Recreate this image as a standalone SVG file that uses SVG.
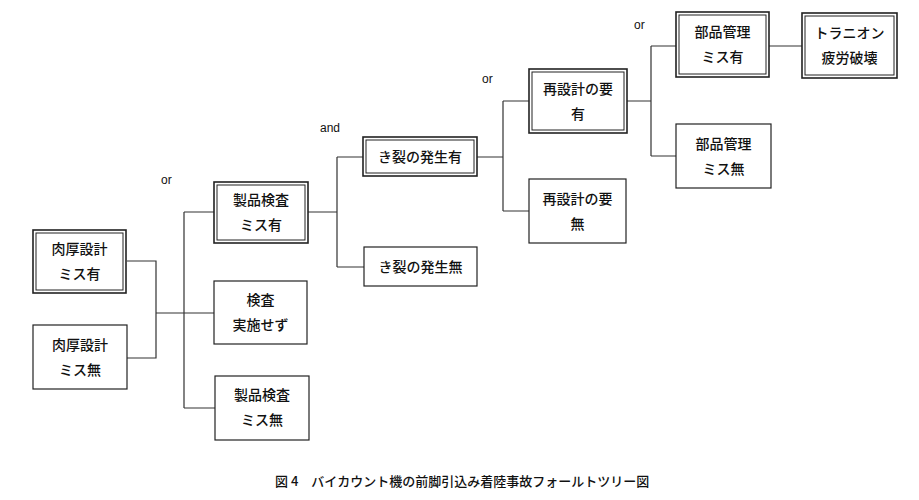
<svg xmlns="http://www.w3.org/2000/svg" width="919" height="500" viewBox="0 0 919 500">
<style>
.b{fill:#fff;stroke:#222;stroke-width:1.2}
.o{fill:#fff;stroke:#222;stroke-width:1.6}
.i{fill:none;stroke:#222;stroke-width:1}
.t{font-family:"Noto Sans CJK JP","Noto Sans",sans-serif;font-size:14px;font-weight:500;fill:#111;text-anchor:middle}
.l{font-family:"Liberation Sans",Arial,sans-serif;font-size:12px;fill:#111}
.c{fill:none;stroke:#333;stroke-width:1.2}
</style>
<rect width="919" height="500" fill="#fff"/>
<g id="connectors" class="c">
<path d="M127,261H156V358H127M156,313H184M184,212V408M184,212H214M184,313H214M184,408H215"/>
<path d="M308,212H337M337,157V267M337,157H363M337,267H364"/>
<path d="M477,157H503M503,101V211M503,101H529M503,211H529"/>
<path d="M627,101H651M651,46V156M651,46H676M651,156H676"/>
<path d="M769,46H802"/>
</g>
<g id="n1"><rect class="o" x="33" y="230" width="93" height="63"/><rect class="i" x="36" y="233" width="87" height="57"/><text class="t" x="79.5" y="254">肉厚設計</text><text class="t" x="79.5" y="279">ミス有</text></g>
<g id="n2"><rect class="b" x="33" y="325" width="94" height="64"/><text class="t" x="80" y="350">肉厚設計</text><text class="t" x="80" y="375">ミス無</text></g>
<g id="n3"><rect class="o" x="214" y="182" width="94" height="61"/><rect class="i" x="217" y="185" width="88" height="55"/><text class="t" x="261" y="205">製品検査</text><text class="t" x="261" y="230">ミス有</text></g>
<g id="n4"><rect class="b" x="214" y="281" width="93" height="63"/><text class="t" x="260.5" y="305">検査</text><text class="t" x="260.5" y="330">実施せず</text></g>
<g id="n5"><rect class="b" x="215" y="376" width="94" height="64"/><text class="t" x="262" y="400">製品検査</text><text class="t" x="262" y="425">ミス無</text></g>
<g id="n6"><rect class="o" x="363" y="137" width="114" height="39"/><rect class="i" x="366" y="140" width="108" height="33"/><text class="t" x="420" y="162">き裂の発生有</text></g>
<g id="n7"><rect class="b" x="364" y="247" width="113" height="39"/><text class="t" x="420.5" y="272">き裂の発生無</text></g>
<g id="n8"><rect class="o" x="529" y="69" width="98" height="64"/><rect class="i" x="532" y="72" width="92" height="58"/><text class="t" x="578" y="94">再設計の要</text><text class="t" x="578" y="119">有</text></g>
<g id="n9"><rect class="b" x="529" y="179" width="97" height="64"/><text class="t" x="577.5" y="204">再設計の要</text><text class="t" x="577.5" y="229">無</text></g>
<g id="n10"><rect class="o" x="676" y="12" width="93" height="65"/><rect class="i" x="679" y="15" width="87" height="59"/><text class="t" x="722.5" y="37">部品管理</text><text class="t" x="722.5" y="62">ミス有</text></g>
<g id="n11"><rect class="b" x="676" y="124" width="95" height="64"/><text class="t" x="723.5" y="149">部品管理</text><text class="t" x="723.5" y="174">ミス無</text></g>
<g id="n12"><rect class="o" x="802" y="13" width="95" height="65"/><rect class="i" x="805" y="16" width="89" height="59"/><text class="t" x="849.5" y="38">トラニオン</text><text class="t" x="849.5" y="63">疲労破壊</text></g>
<g id="labels">
<text class="l" x="161" y="184">or</text>
<text class="l" x="320" y="132">and</text>
<text class="l" x="482" y="83">or</text>
<text class="l" x="634" y="29">or</text>
</g>
<text id="caption" x="275" y="486" style="font-family:'Noto Sans CJK JP',sans-serif;font-size:13px;font-weight:500;fill:#111">図 4　バイカウント機の前脚引込み着陸事故フォールトツリー図</text>
</svg>
